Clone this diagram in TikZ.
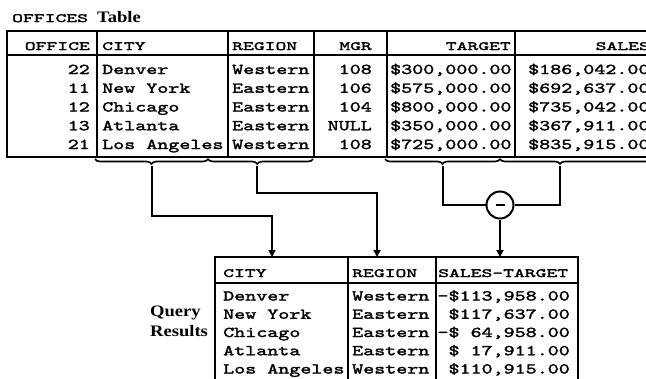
\documentclass[tikz,border=0pt]{standalone}
\usepackage{fontspec}
\usetikzlibrary{decorations.pathreplacing,arrows.meta}
\newfontfamily\cellfont{lmmono10-regular.otf}[FakeStretch=1.4,FakeBold=2]
\newfontfamily\headfont{lmmono10-regular.otf}[FakeStretch=1.65,FakeBold=2.4]
\newfontfamily\captionfont{Liberation Serif}[FakeStretch=1.16]
\tikzset{
  cell/.style={inner sep=0pt, font=\cellfont\fontsize{15pt}{18pt}\selectfont},
  head/.style={inner sep=0pt, font=\headfont\fontsize{12.5pt}{15pt}\selectfont},
  caption/.style={inner sep=0pt, font=\captionfont\bfseries\fontsize{16pt}{19pt}\selectfont},
  rule/.style={line width=2.2pt},
  conn/.style={line width=2.2pt},
  arr/.style={conn, -{Triangle[length=7pt,width=7pt]}},
  brc/.style={line width=1.6pt, decorate, decoration={brace,mirror,amplitude=5pt}},
}
\begin{document}
\begin{tikzpicture}[x=1pt,y=-1pt]
\useasboundingbox (0,0) rectangle (646,378);
\clip (0,0) rectangle (646,378);

% ---- title ----
\node[head, anchor=base west] (ttl) at (12,22) {OFFICES};
\node[caption, anchor=base west] (ttl2) at (97,22) {Table};

% ---- OFFICES table frame ----
\draw[rule] (7,31) rectangle (662,157);
\draw[rule] (7,55) -- (662,55);
\foreach \x in {97,228,314,387,515} \draw[rule] (\x,31) -- (\x,157);

% ---- OFFICES headers ----
\node[head, anchor=base east] (hoff) at (90,50) {OFFICE};
\node[head, anchor=base west] (hcity) at (102,50) {CITY};
\node[head, anchor=base west] (hreg) at (232,50) {REGION};
\node[head, anchor=base east] (hmgr) at (372,50) {MGR};
\node[head, anchor=base east] (htgt) at (511,50) {TARGET};
\node[head, anchor=base east] (hsal) at (650,50) {SALES};

% ---- OFFICES rows ----
\foreach \i/\off/\city/\reg/\mgr/\tgt/\sal [count=\n] in {
  74/22/Denver/Western/108/{\$300,000.00}/{\$186,042.00},
  92.75/11/New York/Eastern/106/{\$575,000.00}/{\$692,637.00},
  111.5/12/Chicago/Eastern/104/{\$800,000.00}/{\$735,042.00},
  130.25/13/Atlanta/Eastern/NULL/{\$350,000.00}/{\$367,911.00},
  149/21/Los Angeles/Western/108/{\$725,000.00}/{\$835,915.00}} {
  \node[cell, anchor=base east] (off\n) at (90,\i) {\off};
  \node[cell, anchor=base west] (city\n) at (102,\i) {\city};
  \node[cell, anchor=base west] (reg\n) at (232,\i) {\reg};
  \node[cell, anchor=base east] (mgr\n) at (372,\i) {\mgr};
  \node[cell, anchor=base west] (tgt\n) at (390,\i) {\tgt};
  \node[cell, anchor=base west] (sal\n) at (528,\i) {\sal};
}

% ---- braces under the selected columns ----
\draw[brc] (95,159) -- (208,159);
\draw[brc, decoration={aspect=0.47}] (208,159) -- (313,159);
\draw[brc] (385,159) -- (500,159);
\draw[brc, decoration={aspect=0.375}] (500,159) -- (660,159);
\coordinate (bcity) at (152,166);
\coordinate (breg) at (257,166);
\coordinate (btgt) at (443,166);
\coordinate (bsal) at (560,166);

% ---- subtraction ----
\node[circle, draw, line width=2pt, minimum size=27pt, inner sep=0pt] (minus) at (500,205) {};
\draw[line width=2.2pt] ([xshift=-4.5pt]minus.center) -- ([xshift=4.5pt]minus.center);

% ---- result table frame ----
\draw[rule] (215,257) rectangle (578,392);
\draw[rule] (215,283) -- (578,283);
\foreach \x in {348,436} \draw[rule] (\x,257) -- (\x,392);
\coordinate (incity) at (272,257);
\coordinate (inreg) at (377,257);
\coordinate (indiff) at (500,257);

% ---- connectors ----
\draw[arr] (bcity) -- ++(0,50) -| (incity);
\draw[arr] (breg) -- ++(0,27) -| (inreg);
\draw[conn] (btgt) |- (minus.west);
\draw[conn] (bsal) |- (minus.east);
\draw[arr] (minus.south) -- (indiff);

% ---- result headers ----
\node[head, anchor=base west] (rcity) at (223,277) {CITY};
\node[head, anchor=base west] (rreg) at (352,277) {REGION};
\node[head, anchor=base west] (rdiff) at (438,277) {SALES-TARGET};

% ---- result rows ----
\foreach \i/\city/\reg/\diff [count=\n] in {
  300.5/Denver/Western/{-\$113,958.00},
  318.75/New York/Eastern/{\$117,637.00},
  337/Chicago/Eastern/{-\$ 64,958.00},
  355.25/Atlanta/Eastern/{\$ 17,911.00},
  373.5/Los Angeles/Western/{\$110,915.00}} {
  \node[cell, anchor=base west] (qcity\n) at (223,\i) {\city};
  \node[cell, anchor=base west] (qreg\n) at (352,\i) {\reg};
  \node[cell, anchor=base east] (qdiff\n) at (570,\i) {\diff};
}

% ---- side caption ----
\node[caption, anchor=base west] (qlab1) at (150,316) {Query};
\node[caption, anchor=base west] (qlab2) at (150,336.5) {Results};
\end{tikzpicture}
\end{document}
